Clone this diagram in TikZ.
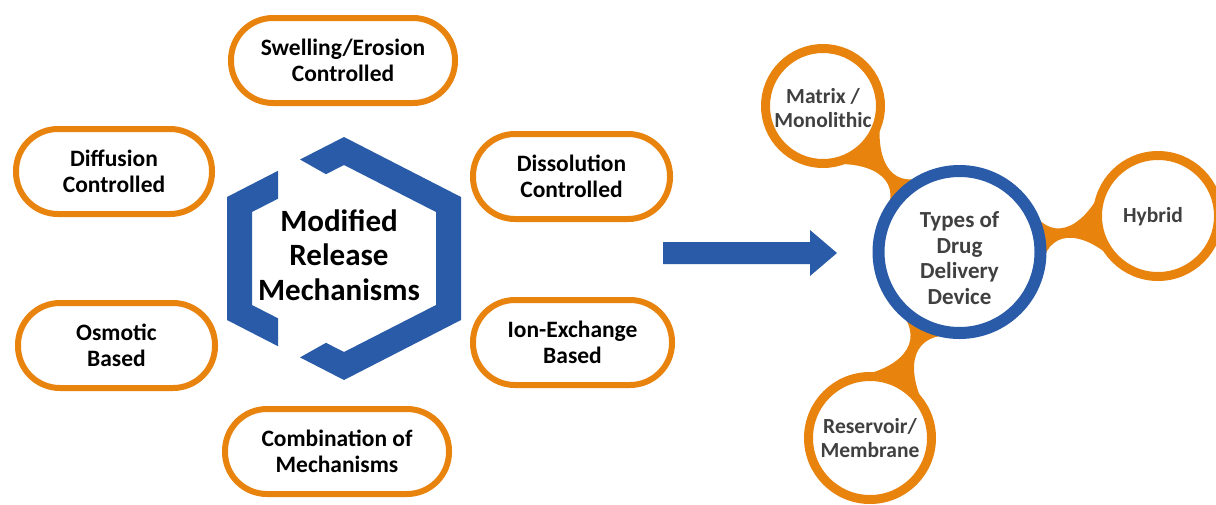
\documentclass[tikz,border=0pt]{standalone}
\usepackage{fontspec}
\setmainfont{Carlito}
\usetikzlibrary{calc}
\definecolor{orc}{HTML}{E8830E}
\definecolor{blc}{HTML}{2A5BA8}
\definecolor{txg}{HTML}{404040}
\newcommand\mybridge[5]{%
\fill[orc] ($(#1)+({#3+28}:#4)$) .. controls ($(#1)!0.42!(#2)+({#3-90}:4.5)$) and ($(#1)!0.58!(#2)+({#3-90}:4.5)$) .. ($(#2)+({#3+180-28}:#5)$)
 -- ($(#2)+({#3+180+28}:#5)$) .. controls ($(#1)!0.58!(#2)+({#3+90}:4.5)$) and ($(#1)!0.42!(#2)+({#3+90}:4.5)$) .. ($(#1)+({#3-28}:#4)$) -- cycle;}
\tikzset{
 pill/.style={draw=orc, line width=6pt, fill=white, rounded corners=42pt, minimum height=85pt, align=center, font=\fontsize{23.5}{26}\selectfont\bfseries, text=black, inner sep=0pt},
 ocirc/.style={circle, draw=orc, line width=9pt, fill=white, align=center, font=\fontsize{21.5}{24.5}\selectfont\bfseries, text=txg, inner sep=0pt},
 bcirc/.style={circle, draw=blc, line width=12pt, fill=white, inner sep=0pt},
 clbl/.style={align=center, text=txg, inner sep=0pt, font=\fontsize{21.5}{24.5}\selectfont\bfseries},
 blbl/.style={align=center, text=txg, inner sep=0pt, font=\fontsize{23}{25.5}\selectfont\bfseries},
}
\begin{document}
\begin{tikzpicture}[x=1pt,y=-1pt]
\useasboundingbox (0,0) rectangle (1216,504);
% hexagon pieces
\fill[blc] (278,170.8) -- (227,197) -- (227,320) -- (278,346.2) -- (278,318.3) -- (252,305) -- (252,212) -- (278,198.7) -- cycle;
\fill[blc] (300,159.5) -- (344,137) -- (461,197) -- (461,320) -- (344,380) -- (300,357.4) -- (326,342.8) -- (344,352) -- (436,305) -- (436,212) -- (344,165) -- (326,174.2) -- cycle;
\node[align=center, font=\fontsize{31}{34.5}\selectfont\bfseries] (title) at (339,255) {Modified\\Release\\Mechanisms};
% pills
\node[pill, minimum width=224pt] (swe) at (343,60.5) {Swelling/Erosion\\Controlled};
\node[pill, minimum width=196pt] (dif) at (114,171.5) {Diffusion\\Controlled};
\node[pill, minimum width=197pt] (dis) at (571.5,176.5) {Dissolution\\Controlled};
\node[pill, minimum width=197pt] (osm) at (116.5,345.5) {Osmotic\\Based};
\node[pill, minimum width=199pt] (ion) at (572.5,342.5) {Ion-Exchange\\Based};
\node[pill, minimum width=224pt] (com) at (337,451.5) {Combination of\\Mechanisms};
% arrow
\fill[blc] (663,242) -- (810,242) -- (810,230) -- (837,253) -- (810,276) -- (810,264) -- (663,264) -- cycle;
% right cluster
\coordinate (Mc) at (823,106);
\coordinate (Cc) at (959.5,252);
\coordinate (Hc) at (1158,216);
\coordinate (Rc) at (870,438);
\mybridge{Mc}{Cc}{46.9}{60}{85}
\mybridge{Cc}{Hc}{-10.3}{85}{63}
\mybridge{Cc}{Rc}{115.7}{85}{64}
\node[ocirc, minimum size=115pt, label={[clbl, yshift=-2pt]center:Matrix /\\Monolithic}] (M) at (Mc) {};
\node[ocirc, minimum size=121pt, label={[clbl, xshift=-5pt, yshift=-1pt]center:Hybrid}] (H) at (Hc) {};
\node[ocirc, minimum size=123pt] (R) at (Rc) {Reservoir/\\Membrane};
\node[bcirc, minimum size=162pt, label={[blbl, yshift=-6pt]center:Types of\\Drug\\Delivery\\Device}] (C) at (Cc) {};
\end{tikzpicture}
\end{document}
